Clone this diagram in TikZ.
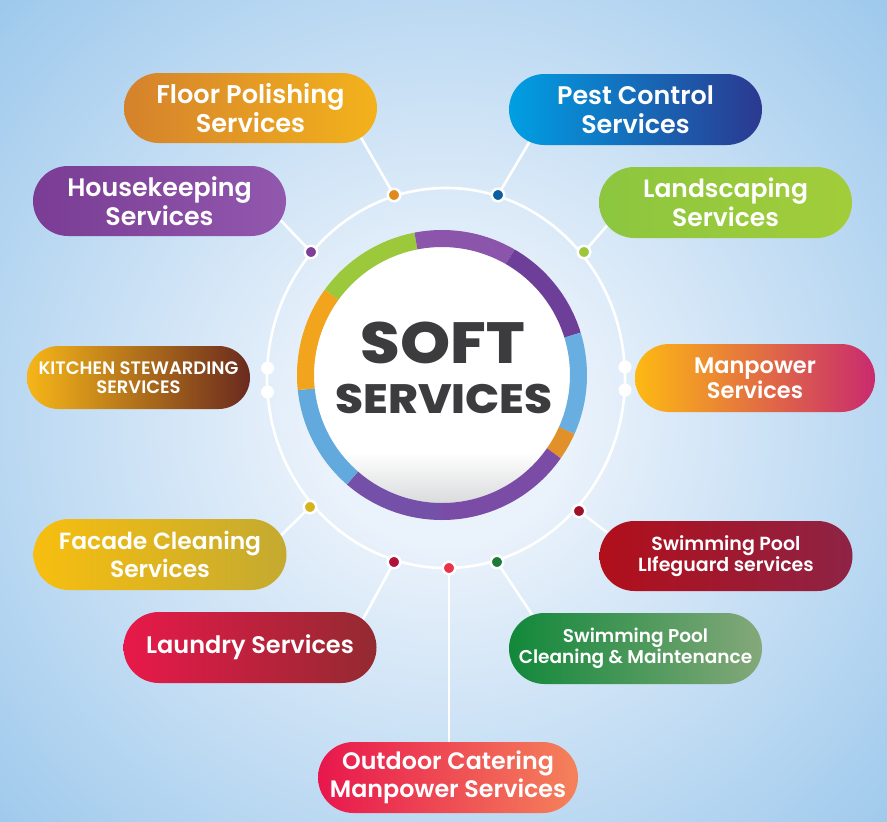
\documentclass[tikz,border=0pt]{standalone}
\usepackage{fontspec}
\usetikzlibrary{shapes.misc,calc}
\setmainfont{Poppins}
\IfFontExistsTF{Poppins SemiBold}{\newfontfamily\labfont{Poppins SemiBold}}{\newfontfamily\labfontb{Poppins}\newcommand\labfont{\labfontb\bfseries}}
\IfFontExistsTF{Poppins ExtraBold}{\newfontfamily\heavyfont{Poppins ExtraBold}}{\newfontfamily\heavyfontb{Poppins}\newcommand\heavyfont{\heavyfontb\bfseries}}
\definecolor{bgin}{HTML}{EAF2FB}
\definecolor{bgout}{HTML}{9CC8EC}
\definecolor{diskgray}{HTML}{DADBDD}
\pgfdeclareradialshading{bgshade}{\pgfpoint{0bp}{0bp}}{color(0bp)=(bgin); color(7bp)=(bgin); color(34bp)=(bgout); color(50bp)=(bgout)}
\pgfdeclareverticalshading{diskshade}{100bp}{color(0bp)=(diskgray); color(25bp)=(diskgray); color(35bp)=(white); color(100bp)=(white)}
\definecolor{txtdark}{HTML}{3C3C3E}
\definecolor{rgreen}{HTML}{9CC93B}
\definecolor{rpurpA}{HTML}{8A55AA}
\definecolor{rpurpB}{HTML}{6E3F98}
\definecolor{rpurpC}{HTML}{7B4CA6}
\definecolor{rpurpD}{HTML}{7550A8}
\definecolor{rblue}{HTML}{68AEE0}
\definecolor{rblueB}{HTML}{62A9DE}
\definecolor{rorange}{HTML}{F2A41C}
\definecolor{rorangeB}{HTML}{E2902A}
% box gradients
\definecolor{flA}{HTML}{D5822C}\definecolor{flB}{HTML}{F3B21C}
\definecolor{hkA}{HTML}{7A3C94}\definecolor{hkB}{HTML}{9258AE}
\definecolor{ksA}{HTML}{F6B618}\definecolor{ksB}{HTML}{6A2A1E}
\definecolor{pcA}{HTML}{009FE3}\definecolor{pcB}{HTML}{2B3990}
\definecolor{lsA}{HTML}{8CC63F}\definecolor{lsB}{HTML}{A2CD3A}
\definecolor{mpA}{HTML}{FDB913}\definecolor{mpB}{HTML}{C92A6E}
\definecolor{fcA}{HTML}{F7BE10}\definecolor{fcB}{HTML}{C4AA30}
\definecolor{lnA}{HTML}{E8194A}\definecolor{lnB}{HTML}{932A30}
\definecolor{odA}{HTML}{E8174D}\definecolor{odB}{HTML}{F5825B}
\definecolor{lgA}{HTML}{B10F1A}\definecolor{lgB}{HTML}{8E2345}
\definecolor{spA}{HTML}{11883A}\definecolor{spB}{HTML}{84A87A}
% dot colours
\definecolor{dF}{HTML}{E08A1E}
\definecolor{dP}{HTML}{0B5FA5}
\definecolor{dH}{HTML}{7E3F98}
\definecolor{dL}{HTML}{9CC63B}
\definecolor{dFc}{HTML}{D6B21C}
\definecolor{dLn}{HTML}{B0123A}
\definecolor{dO}{HTML}{E8334A}
\definecolor{dS}{HTML}{1E7A3C}
\definecolor{dG}{HTML}{A01028}
\pgfdeclarelayer{bg}
\pgfdeclarelayer{lines}
\pgfsetlayers{bg,lines,main}
\newcommand\lf[2]{\labfont\fontsize{#1}{#2}\selectfont}
\begin{document}
\begin{tikzpicture}[x=1pt,y=-1pt,
  pill/.style={rounded rectangle, minimum width=253pt, minimum height=70pt, inner sep=0pt, text=white, align=center},
  dotn/.style={circle, draw=white, line width=2.5pt, minimum size=12.5pt, inner sep=0pt},
  wdot/.style={circle, fill=white, minimum size=13pt, inner sep=0pt},
  conn/.style={draw=white, line width=2.6pt},
  seg/.style={line width=17pt}]
\useasboundingbox (0,0) rectangle (887,822);
\begin{pgfonlayer}{bg}
\begin{scope}
\clip (0,0) rectangle (887,822);
\shade[shading=bgshade] (-15,-30) rectangle (905,870);
\end{scope}
\draw[white, line width=2.6pt] (446,378) ellipse [x radius=179pt, y radius=190pt];
\end{pgfonlayer}
% centre
\node[circle, minimum size=256pt, inner sep=0pt, shade, shading=diskshade] (disk) at (442,375) {};
\foreach \a/\b/\c in {-144/-101/rgreen, -101/-60/rpurpA, -60/-17/rpurpB, -17/24/rblue, 24/35/rorangeB, 35/90/rpurpC, 90/131/rpurpD, 131/174/rblueB, 174/216/rorange}
  \draw[seg, draw=\c] ([shift={(\a:136.5)}]442,375) arc[start angle=\a, end angle=\b, radius=136.5];
\node[anchor=base, text=txtdark, font={\heavyfont\fontsize{58}{58}\selectfont}] (soft) at (443,363) {\scalebox{1.1}[1]{SOFT}};
\node[anchor=base, text=txtdark, font={\heavyfont\fontsize{41}{41}\selectfont}] (serv) at (444,413) {\scalebox{1.1}[1]{SERVICES}};
% boxes
\node[pill, font={\lf{25.6}{29}}, left color=flA, right color=flB] (floor) at (250.5,108) {Floor Polishing\\Services};
\node[pill, font={\lf{25.3}{29}}, left color=hkA, right color=hkB] (house) at (159.5,201) {Housekeeping\\Services};
\node[pill, minimum width=223pt, minimum height=63pt, left color=ksA, right color=ksB, font={\lf{18}{19}}] (kitchen) at (138.5,377.5) {KITCHEN STEWARDING\\SERVICES};
\node[pill, font={\lf{25.4}{29}}, minimum height=71pt, left color=pcA, right color=pcB] (pest) at (635.5,109.5) {Pest Control\\Services};
\node[pill, font={\lf{25}{29}}, minimum height=71pt, left color=lsA, right color=lsB] (land) at (725.5,202.5) {Landscaping\\Services};
\node[pill, minimum width=240pt, minimum height=68pt, left color=mpA, right color=mpB, font={\lf{22.5}{25}}] (man) at (755,378) {Manpower\\Services};
\node[pill, font={\lf{23.4}{28.5}}, minimum height=71pt, left color=fcA, right color=fcB] (facade) at (160,554.5) {Facade Cleaning\\Services};
\node[pill, font={\lf{24}{29}}, minimum height=71pt, left color=lnA, right color=lnB] (laundry) at (250,647.5) {Laundry Services};
\node[pill, minimum height=71pt, left color=odA, right color=odB, font={\lf{23.8}{28}}] (outdoor) at (448,777.5) {Outdoor Catering\\Manpower Services};
\node[pill, left color=lgA, right color=lgB, font={\lf{19}{21.5}}] (life) at (726,556) {Swimming Pool\\LIfeguard services};
\node[pill, minimum height=71pt, left color=spA, right color=spB, font={\lf{18.5}{21.5}}] (pool) at (635.5,648.5) {Swimming Pool\\Cleaning \& Maintenance};
% dots
\node[dotn, fill=dF] (dotF) at (394,195) {};
\node[dotn, fill=dP] (dotP) at (498,195) {};
\node[dotn, fill=dH] (dotH) at (311,252) {};
\node[dotn, fill=dL] (dotL) at (584,252) {};
\node[dotn, fill=dFc] (dotFc) at (310,507) {};
\node[dotn, fill=dG] (dotG) at (579,511) {};
\node[dotn, fill=dLn] (dotLn) at (394,562) {};
\node[dotn, fill=dO] (dotO) at (449,568) {};
\node[dotn, fill=dS] (dotS) at (497,562) {};
\node[wdot] (wl1) at (267.5,368) {};
\node[wdot] (wl2) at (267.5,392) {};
\node[wdot] (wr1) at (625,367) {};
\node[wdot] (wr2) at (625,390) {};
% connectors
\begin{pgfonlayer}{lines}
\draw[conn] (dotF.center) -- (floor.-15);
\draw[conn] (dotH.center) -- (house.-9);
\draw[conn] (dotP.center) -- (pest.-163);
\draw[conn] (dotL.center) -- (land.-169);
\draw[conn] (dotFc.center) -- (facade.9);
\draw[conn] (dotLn.center) -- (laundry.14);
\draw[conn] (dotG.center) -- (life.169);
\draw[conn] (dotS.center) -- (pool.162);
\draw[conn] (dotO.center) -- (dotO.center |- outdoor.north);
\end{pgfonlayer}
\end{tikzpicture}
\end{document}
